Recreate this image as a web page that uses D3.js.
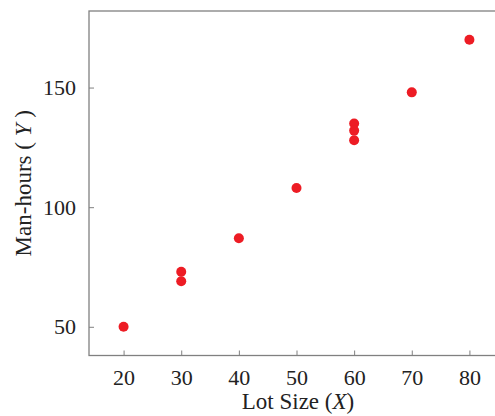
<!DOCTYPE html>
<html><head><meta charset="utf-8">
<script src="https://cdn.jsdelivr.net/npm/d3@7"></script>
<style>body{margin:0;background:#fff}svg{display:block}text{font-family:"Liberation Serif","DejaVu Serif",serif;fill:#222}</style>
</head><body>
<svg id="c" width="495" height="416"></svg>
<script>
const lotSize = [20, 30, 30, 40, 50, 60, 60, 60, 70, 80];
const manHours = [50, 73, 69, 87, 108, 135, 132, 128, 148, 170];
const xTicks = [20, 30, 40, 50, 60, 70, 80];
const yTicks = [50, 100, 150];

const svg = d3.select("#c");
const L = 89, T = 11, R = 504, B = 355.5;
const x = d3.scaleLinear().domain([14, 86]).range([L, R]);
const y = d3.scaleLinear().domain([38, 182]).range([B, T]);
const axisColor = "#808080";

svg.append("rect").attr("x", L).attr("y", T).attr("width", R - L).attr("height", B - T)
  .attr("fill", "none").attr("stroke", axisColor).attr("stroke-width", 1.3);

const xa = svg.append("g").attr("transform", `translate(0,${B})`)
  .call(d3.axisBottom(x).tickValues(xTicks).tickSize(-5).tickPadding(14).tickFormat(d3.format("d")));
xa.select(".domain").remove();
xa.selectAll("line").attr("stroke", axisColor).attr("stroke-width", 1);
xa.selectAll("text").attr("font-size", 22).attr("fill", "#222").attr("font-family", "Liberation Serif");

const ya = svg.append("g").attr("transform", `translate(${L},0)`)
  .call(d3.axisLeft(y).tickValues(yTicks).tickSize(-5).tickPadding(13).tickFormat(d3.format("d")));
ya.select(".domain").remove();
ya.selectAll("line").attr("stroke", axisColor).attr("stroke-width", 1);
ya.selectAll("text").attr("font-size", 22).attr("fill", "#222").attr("font-family", "Liberation Serif");

svg.append("g").selectAll("circle").data(lotSize.map((v, i) => [v, manHours[i]]))
  .join("circle").attr("cx", d => x(d[0])).attr("cy", d => y(d[1])).attr("r", 5)
  .attr("fill", "#ed1c24");

const xl = svg.append("text").attr("x", 298).attr("y", 409).attr("text-anchor", "middle").attr("font-size", 23);
xl.append("tspan").text("Lot Size (");
xl.append("tspan").attr("font-style", "italic").text("X");
xl.append("tspan").text(")");

const yl = svg.append("text").attr("transform", `translate(31,${(T + B) / 2}) rotate(-90)`)
  .attr("text-anchor", "middle").attr("font-size", 23);
yl.append("tspan").text("Man-hours ( ");
yl.append("tspan").attr("font-style", "italic").text("Y");
yl.append("tspan").text(" )");
</script>
</body></html>
